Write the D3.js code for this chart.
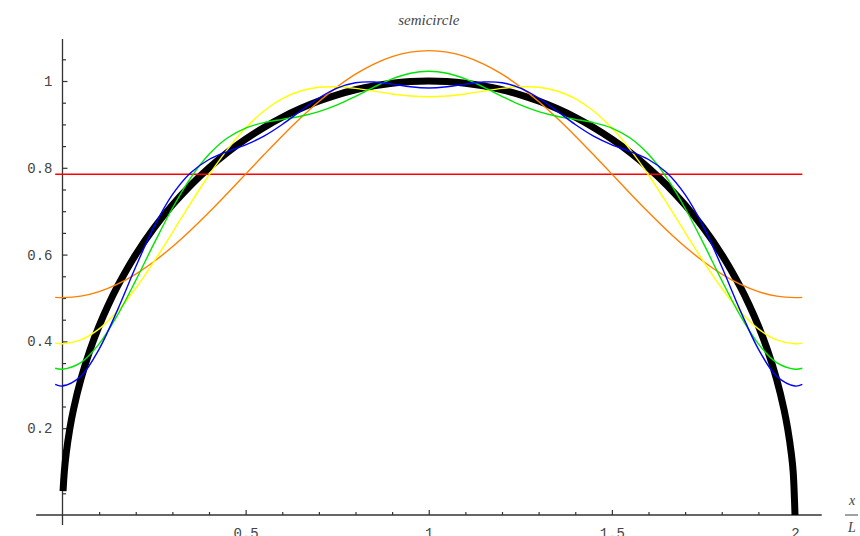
<!DOCTYPE html>
<html>
<head>
    <meta charset="utf-8">
    <script src="https://d3js.org/d3.v7.min.js"></script>
    <style>
        body { margin: 0; background: #fff; }
        .tick text { font-family: "Liberation Mono", monospace; font-size: 14px; fill: #444; }
    </style>
</head>
<body>
    <div id="my_dataviz"></div>
    <script>

        // x positions (x/L) where the Fourier partial sums were read
        var fourierX = [-0.02, 0, 0.05, 0.1, 0.15, 0.2, 0.25, 0.3, 0.35, 0.4, 0.45, 0.5, 0.55, 0.6, 0.65, 0.7, 0.75,
            0.8, 0.85, 0.9, 0.95, 1, 1.05, 1.1, 1.15, 1.2, 1.25, 1.3, 1.35, 1.4, 1.45, 1.5, 1.55, 1.6, 1.65,
            1.7, 1.75, 1.8, 1.85, 1.9, 1.95, 2, 2.02];

        // mean value (red)
        var meanX = [-0.02, 2.02];
        var meanY = [0.7854, 0.7854];

        // one cosine term (orange)
        var orangeY = [0.5014, 0.5008, 0.5043, 0.5147, 0.5318, 0.5552, 0.5842, 0.6181, 0.6562, 0.6975, 0.7409,
            0.7854, 0.8299, 0.8734, 0.9146, 0.9527, 0.9866, 1.0157, 1.0390, 1.0561, 1.0665, 1.0700, 1.0665,
            1.0561, 1.0390, 1.0157, 0.9866, 0.9527, 0.9146, 0.8734, 0.8299, 0.7854, 0.7409, 0.6975, 0.6562,
            0.6181, 0.5842, 0.5552, 0.5318, 0.5147, 0.5043, 0.5008, 0.5014];

        // two terms (yellow)
        var yellowY = [0.3960, 0.3946, 0.4033, 0.4288, 0.4694, 0.5224, 0.5842, 0.6509, 0.7186, 0.7834, 0.8419,
            0.8916, 0.9309, 0.9593, 0.9770, 0.9855, 0.9866, 0.9829, 0.9766, 0.9702, 0.9655, 0.9638, 0.9655,
            0.9702, 0.9766, 0.9829, 0.9866, 0.9855, 0.9770, 0.9593, 0.9309, 0.8916, 0.8419, 0.7834, 0.7186,
            0.6509, 0.5842, 0.5224, 0.4694, 0.4288, 0.4033, 0.3946, 0.3960];

        // three terms (green)
        var greenY = [0.3382, 0.3358, 0.3509, 0.3942, 0.4602, 0.5406, 0.6258, 0.7068, 0.7767, 0.8310, 0.8686,
            0.8916, 0.9042, 0.9117, 0.9189, 0.9296, 0.9450, 0.9647, 0.9858, 1.0048, 1.0179, 1.0226, 1.0179,
            1.0048, 0.9858, 0.9647, 0.9450, 0.9296, 0.9189, 0.9117, 0.9042, 0.8916, 0.8686, 0.8310, 0.7767,
            0.7068, 0.6258, 0.5406, 0.4602, 0.3942, 0.3509, 0.3358, 0.3382];

        // four terms (blue)
        var blueY = [0.3008, 0.2972, 0.3197, 0.3823, 0.4721, 0.5718, 0.6644, 0.7380, 0.7886, 0.8191, 0.8374,
            0.8530, 0.8730, 0.8998, 0.9308, 0.9608, 0.9836, 0.9959, 0.9977, 0.9929, 0.9867, 0.9840, 0.9867,
            0.9929, 0.9977, 0.9959, 0.9836, 0.9608, 0.9308, 0.8998, 0.8730, 0.8530, 0.8374, 0.8191, 0.7886,
            0.7380, 0.6644, 0.5718, 0.4721, 0.3823, 0.3197, 0.2972, 0.3008];

        // the semicircle itself (thick black)
        var circleX = [0.0015, 0.005, 0.01, 0.02, 0.03, 0.05, 0.075, 0.1, 0.125, 0.15, 0.2, 0.25, 0.3, 0.35, 0.4,
            0.45, 0.5, 0.55, 0.6, 0.65, 0.7, 0.75, 0.8, 0.85, 0.9, 0.95, 1, 1.05, 1.1, 1.15, 1.2, 1.25, 1.3,
            1.35, 1.4, 1.45, 1.5, 1.55, 1.6, 1.65, 1.7, 1.75, 1.8, 1.85, 1.875, 1.9, 1.925, 1.95, 1.97, 1.98,
            1.99, 1.995, 2];
        var circleY = [0.055, 0.0999, 0.1411, 0.1990, 0.2431, 0.3122, 0.3800, 0.4359, 0.4841, 0.5268, 0.6,
            0.6614, 0.7141, 0.7599, 0.8, 0.8352, 0.8660, 0.8930, 0.9165, 0.9367, 0.9539, 0.9682, 0.9798,
            0.9887, 0.9950, 0.9987, 1, 0.9987, 0.9950, 0.9887, 0.9798, 0.9682, 0.9539, 0.9367, 0.9165,
            0.8930, 0.8660, 0.8352, 0.8, 0.7599, 0.7141, 0.6614, 0.6, 0.5268, 0.4841, 0.4359, 0.3800,
            0.3122, 0.2431, 0.1990, 0.1411, 0.0999, 0];

        var xMajor = [0.5, 1, 1.5, 2];
        var xMinor = [0.1, 0.2, 0.3, 0.4, 0.6, 0.7, 0.8, 0.9, 1.1, 1.2, 1.3, 1.4, 1.6, 1.7, 1.8, 1.9];
        var yMajor = [0.2, 0.4, 0.6, 0.8, 1];
        var yMinor = [0.05, 0.1, 0.15, 0.25, 0.3, 0.35, 0.45, 0.5, 0.55, 0.65, 0.7, 0.75, 0.85, 0.9, 0.95, 1.05];

        var width = 860, height = 536;

        var svg = d3.select("#my_dataviz")
            .append("svg")
            .attr("width", width)
            .attr("height", height);

        var x = d3.scaleLinear().domain([0, 2]).range([62.5, 795]);
        var y = d3.scaleLinear().domain([0, 1]).range([515, 81]);

        var axisColor = "#333";

        // axis lines
        svg.append("line")
            .attr("x1", x(-0.072)).attr("x2", x(2.073))
            .attr("y1", y(0)).attr("y2", y(0))
            .attr("stroke", axisColor).attr("stroke-width", 1.3);
        svg.append("line")
            .attr("x1", x(0)).attr("x2", x(0))
            .attr("y1", y(1.097)).attr("y2", y(-0.023))
            .attr("stroke", axisColor).attr("stroke-width", 1.3);

        // x ticks, pointing up
        svg.append("g")
            .attr("transform", "translate(0," + y(0) + ")")
            .call(d3.axisBottom(x).tickValues(xMajor).tickSize(-5).tickSizeOuter(0).tickPadding(13)
                .tickFormat(function (d) { return d; }));
        svg.append("g")
            .attr("transform", "translate(0," + y(0) + ")")
            .call(d3.axisBottom(x).tickValues(xMinor).tickSize(-3).tickSizeOuter(0).tickFormat(""));

        // y ticks, pointing right, labels on the left
        svg.append("g")
            .attr("transform", "translate(" + x(0) + ",0)")
            .call(d3.axisLeft(y).tickValues(yMajor).tickSize(-5).tickSizeOuter(0).tickPadding(10)
                .tickFormat(function (d) { return d; }));
        svg.append("g")
            .attr("transform", "translate(" + x(0) + ",0)")
            .call(d3.axisLeft(y).tickValues(yMinor).tickSize(-3.5).tickSizeOuter(0).tickFormat(""));

        svg.selectAll(".domain").remove();
        svg.selectAll(".tick line").attr("stroke", axisColor).attr("stroke-width", 1.2);

        // curves
        var line = d3.line()
            .x(function (d) { return x(d[0]); })
            .y(function (d) { return y(d[1]); })
            .curve(d3.curveCatmullRom);

        function drawCurve(xs, ys, color, w) {
            svg.append("path")
                .datum(d3.zip(xs, ys))
                .attr("fill", "none")
                .attr("stroke", color)
                .attr("stroke-width", w)
                .attr("d", line);
        }

        drawCurve(circleX, circleY, "#000", 7);
        drawCurve(meanX, meanY, "#ff0000", 1.5);
        drawCurve(fourierX, orangeY, "#ff7f00", 1.4);
        drawCurve(fourierX, yellowY, "#ffff00", 1.4);
        drawCurve(fourierX, greenY, "#00e600", 1.4);
        drawCurve(fourierX, blueY, "#0000ff", 1.4);

        // title
        svg.append("text")
            .attr("x", x(1))
            .attr("y", 25)
            .attr("text-anchor", "middle")
            .style("font-family", "Liberation Serif, serif")
            .style("font-style", "italic")
            .style("font-size", "15px")
            .style("fill", "#444")
            .text("semicircle");

        // axis label x / L
        var lab = svg.append("g")
            .style("font-family", "Liberation Serif, serif")
            .style("font-style", "italic")
            .style("font-size", "14px")
            .style("fill", "#444");
        lab.append("text").attr("x", 852).attr("y", 505).attr("text-anchor", "middle").text("x");
        lab.append("line").attr("x1", 845).attr("x2", 858).attr("y1", 515).attr("y2", 515)
            .attr("stroke", "#444").attr("stroke-width", 1);
        lab.append("text").attr("x", 852).attr("y", 532).attr("text-anchor", "middle").text("L");

    </script>
</body>
</html>
